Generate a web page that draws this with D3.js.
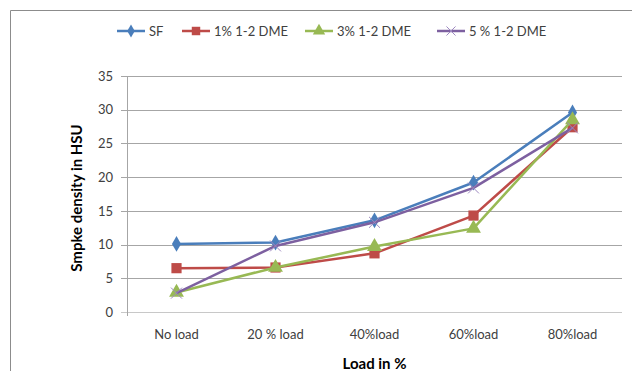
<!DOCTYPE html>
<html>
<head>
<meta charset="utf-8">
<script src="https://cdn.jsdelivr.net/npm/d3@7"></script>
<style>
  body { margin: 0; background: #fff; }
  svg text { font-family: Lato, "Open Sans", sans-serif; }
</style>
</head>
<body>
<div id="chart"></div>
<script>
// data
const categories = ["No load", "20 % load", "40%load", "60%load", "80%load"];
const seriesNames = ["SF", "1% 1-2 DME", "3% 1-2 DME", "5 % 1-2 DME"];
const sf = [10.1, 10.3, 13.6, 19.2, 29.6];
const dme1 = [6.5, 6.6, 8.7, 14.3, 27.4];
const dme3 = [2.9, 6.6, 9.7, 12.4, 28.5];
const dme5 = [2.8, 9.8, 13.3, 18.4, 27.3];
const yTicks = [0, 5, 10, 15, 20, 25, 30, 35];

const colors = ["#4A7EBB", "#BE4B48", "#98B954", "#7D60A0"];
const markers = ["diamond", "square", "triangle", "cross"];
const allSeries = [sf, dme1, dme3, dme5];

const W = 632, H = 371;
const margin = { top: 76, right: 10, bottom: 59, left: 127 };
const width = 622 - margin.left;
const height = 312 - margin.top;

const svg = d3.select("#chart").append("svg")
    .attr("width", W)
    .attr("height", H);

// outer chart border (only top and left are visible)
svg.append("path")
    .attr("d", "M10.5,371 L10.5,10.5 L632,10.5")
    .attr("fill", "none")
    .attr("stroke", "#8c8c8c")
    .attr("stroke-width", 1);

const g = svg.append("g")
    .attr("transform", `translate(${margin.left},${margin.top})`);

const x = d3.scaleBand()
    .domain(categories)
    .range([0, width]);

const y = d3.scaleLinear()
    .domain([0, 35])
    .range([height, 0]);

// gridlines
g.append("g")
    .selectAll("line")
    .data(yTicks)
    .enter().append("line")
    .attr("x1", -6)
    .attr("x2", width)
    .attr("y1", d => Math.round(y(d)) + 0.5)
    .attr("y2", d => Math.round(y(d)) + 0.5)
    .attr("stroke", d => d === 0 ? "#c8c8c8" : "#a6a6a6")
    .attr("stroke-width", 1);

// y axis
const yAxis = g.append("g")
    .call(d3.axisLeft(y).tickValues(yTicks).tickSize(0).tickPadding(14));
yAxis.select(".domain").remove();
yAxis.selectAll("text")
    .style("font-size", "13px")
    .style("fill", "#404040")
    .style("font-family", "Lato, sans-serif");

g.append("line")
    .attr("x1", 0.5).attr("x2", 0.5)
    .attr("y1", 0).attr("y2", height + 4)
    .attr("stroke", "#a6a6a6");

// x axis
const xAxis = g.append("g")
    .attr("transform", `translate(0,${height})`)
    .call(d3.axisBottom(x).tickSize(0).tickPadding(18));
xAxis.select(".domain").remove();
xAxis.selectAll("text")
    .style("font-size", "13px")
    .style("fill", "#404040")
    .style("font-family", "Lato, sans-serif");

// lines
const line = d3.line()
    .x((d, i) => x(categories[i]) + x.bandwidth() / 2)
    .y(d => y(d));

function symbolFor(kind, size) {
    if (kind === "diamond") return d3.symbol().type(d3.symbolDiamond).size(size * 0.9)();
    if (kind === "square") return d3.symbol().type(d3.symbolSquare).size(size * 1.3)();
    if (kind === "triangle") return d3.symbol().type(d3.symbolTriangle).size(size * 1.2)();
    return d3.symbol().type(d3.symbolTimes).size(size)();
}

allSeries.forEach((vals, s) => {
    g.append("path")
        .datum(vals)
        .attr("fill", "none")
        .attr("stroke", colors[s])
        .attr("stroke-width", 2.5)
        .attr("stroke-linejoin", "round")
        .attr("d", line);

    g.selectAll(".m" + s)
        .data(vals)
        .enter().append("path")
        .attr("class", "m" + s)
        .attr("transform", (d, i) => `translate(${x(categories[i]) + x.bandwidth() / 2},${y(d)})`)
        .attr("d", symbolFor(markers[s], 80))
        .attr("fill", markers[s] === "cross" ? "#9d88c0" : colors[s])
        .attr("stroke", markers[s] === "cross" ? "#9d88c0" : "none")
        .attr("stroke-width", 1);
});

// legend
const legendX = [117, 182, 305, 437];
const legend = svg.append("g");
seriesNames.forEach((name, s) => {
    const lx = legendX[s];
    legend.append("line")
        .attr("x1", lx).attr("x2", lx + 28)
        .attr("y1", 31).attr("y2", 31)
        .attr("stroke", colors[s])
        .attr("stroke-width", 2.5);
    legend.append("path")
        .attr("transform", `translate(${lx + 14},31)`)
        .attr("d", symbolFor(markers[s], 55))
        .attr("fill", markers[s] === "cross" ? "#9d88c0" : colors[s])
        .attr("stroke", markers[s] === "cross" ? "#9d88c0" : "none");
    legend.append("text")
        .attr("x", lx + 32)
        .attr("y", 36)
        .style("font-size", "13px")
        .style("fill", "#404040")
        .text(name);
});

// axis titles
svg.append("text")
    .attr("x", margin.left + width / 2)
    .attr("y", 369)
    .attr("text-anchor", "middle")
    .style("font-size", "15px")
    .style("font-weight", "bold")
    .style("fill", "#000")
    .text("Load in %");

svg.append("text")
    .attr("transform", "translate(82,198) rotate(-90)")
    .attr("text-anchor", "middle")
    .style("font-size", "15px")
    .style("font-weight", "bold")
    .style("fill", "#000")
    .text("Smpke density in HSU");
</script>
</body>
</html>
